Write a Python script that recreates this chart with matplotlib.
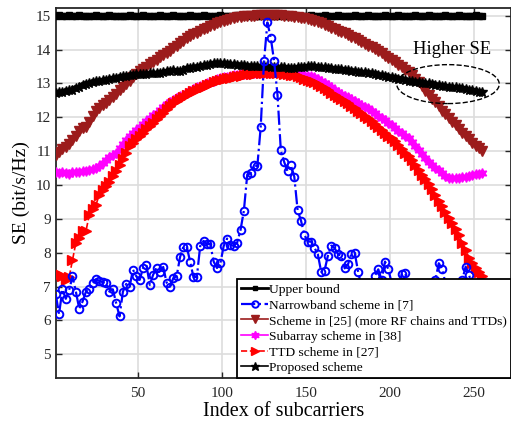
import numpy as np
import matplotlib
matplotlib.use("Agg")
import matplotlib.pyplot as plt
from matplotlib.patches import Ellipse

plt.rcParams['font.family'] = ['Liberation Serif', 'DejaVu Serif']
plt.rcParams['mathtext.fontset'] = 'stix'

# subcarrier index (every 2nd subcarrier plotted)
idx = np.arange(1, 257, 2)

upper = [15.00, 15.01, 14.99, 15.00, 15.01, 15.00, 14.99, 15.01, 15.00, 15.00, 14.99, 15.00, 15.01, 15.00, 14.99, 15.00,
         15.01, 14.99, 15.00, 14.98, 14.99, 15.00, 15.01, 15.00, 14.99, 15.00, 15.01, 15.00, 15.00, 14.99, 15.00, 15.01,
         15.00, 14.99, 15.00, 15.01, 15.00, 14.99, 15.00, 15.00, 15.01, 15.00, 14.99, 15.00, 15.01, 15.00, 15.00, 14.99,
         15.00, 15.01, 15.00, 14.99, 15.00, 15.00, 15.01, 15.00, 14.99, 15.00, 15.01, 15.00, 14.99, 15.00, 15.01, 15.00,
         15.00, 14.99, 15.00, 15.01, 15.00, 14.99, 15.00, 15.01, 15.00, 14.98, 14.99, 15.00, 15.01, 15.00, 14.99, 15.00,
         15.01, 15.00, 14.99, 15.00, 15.01, 15.00, 15.00, 14.99, 15.00, 15.01, 15.00, 14.99, 15.00, 15.01, 15.00, 15.00,
         14.99, 15.00, 15.01, 15.00, 14.99, 15.00, 15.01, 15.00, 15.00, 14.99, 15.00, 15.01, 15.00, 14.99, 15.00, 15.01,
         15.00, 15.00, 14.99, 15.00, 15.01, 15.00, 14.99, 15.00, 15.01, 15.00, 15.00, 14.99, 15.00, 15.01, 15.00, 15.00]

narrowband = [6.78, 6.19, 6.92, 6.64, 6.90, 7.30, 6.85, 6.35, 6.56, 6.85, 6.92, 7.10, 7.22, 7.17, 7.13, 7.10,
              6.85, 6.92, 6.51, 6.12, 6.85, 7.08, 7.00, 7.50, 7.30, 7.20, 7.55, 7.64, 7.05, 7.35, 7.55, 7.42,
              7.58, 7.12, 7.00, 7.25, 7.31, 7.87, 8.18, 8.18, 7.74, 7.28, 7.28, 8.20, 8.35, 8.25, 8.26, 7.74,
              7.55, 7.69, 8.20, 8.42, 8.23, 8.20, 8.30, 8.67, 9.24, 10.30, 10.35, 10.60, 10.55, 11.70, 13.66, 14.80,
              14.35, 13.66, 12.67, 11.02, 10.68, 10.40, 10.58, 10.25, 9.25, 8.95, 8.53, 8.33, 8.33, 8.15, 7.96, 7.44,
              7.47, 7.91, 8.21, 8.14, 7.96, 7.91, 7.54, 7.66, 7.97, 7.99, 7.44, 7.00, 6.80, 7.00, 6.90, 7.32,
              7.51, 7.20, 7.74, 7.51, 7.10, 6.90, 7.00, 7.37, 7.40, 7.00, 6.80, 6.90, 6.70, 7.00, 6.80, 6.90,
              7.10, 7.20, 7.69, 7.52, 7.10, 6.90, 7.00, 6.80, 7.00, 7.20, 7.59, 7.35, 7.00, 6.80, 6.90, 7.00]

scheme25 = [10.90, 10.98, 11.05, 11.13, 11.20, 11.32, 11.45, 11.60, 11.68, 11.72, 11.85, 12.05, 12.20, 12.28, 12.36, 12.43,
            12.52, 12.61, 12.70, 12.80, 12.90, 12.99, 13.08, 13.18, 13.27, 13.36, 13.43, 13.50, 13.57, 13.63, 13.70, 13.77,
            13.84, 13.90, 13.97, 14.04, 14.11, 14.19, 14.26, 14.33, 14.40, 14.45, 14.50, 14.55, 14.60, 14.65, 14.70, 14.74,
            14.78, 14.82, 14.85, 14.88, 14.91, 14.93, 14.95, 14.97, 14.98, 14.99, 15.00, 15.00, 15.01, 15.02, 15.02, 15.02,
            15.02, 15.02, 15.01, 15.01, 15.00, 14.99, 14.98, 14.97, 14.95, 14.94, 14.92, 14.90, 14.87, 14.84, 14.81, 14.77,
            14.73, 14.69, 14.65, 14.60, 14.56, 14.52, 14.48, 14.43, 14.38, 14.33, 14.28, 14.23, 14.17, 14.12, 14.07, 14.01,
            13.95, 13.89, 13.82, 13.75, 13.69, 13.62, 13.55, 13.48, 13.41, 13.33, 13.25, 13.14, 13.03, 12.91, 12.79, 12.67,
            12.55, 12.44, 12.32, 12.20, 12.09, 11.98, 11.87, 11.76, 11.65, 11.55, 11.45, 11.35, 11.25, 11.16, 11.08, 11.00]

subarray = [10.37, 10.35, 10.38, 10.36, 10.34, 10.37, 10.39, 10.38, 10.40, 10.42, 10.44, 10.47, 10.50, 10.56, 10.64, 10.74,
            10.82, 10.88, 10.96, 11.08, 11.20, 11.32, 11.44, 11.53, 11.62, 11.72, 11.81, 11.90, 11.99, 12.06, 12.14, 12.22,
            12.30, 12.38, 12.45, 12.52, 12.57, 12.62, 12.67, 12.72, 12.77, 12.83, 12.88, 12.92, 12.96, 13.00, 13.04, 13.08,
            13.12, 13.16, 13.18, 13.20, 13.22, 13.24, 13.26, 13.27, 13.28, 13.29, 13.30, 13.31, 13.32, 13.33, 13.34, 13.35,
            13.35, 13.35, 13.34, 13.34, 13.33, 13.33, 13.32, 13.31, 13.29, 13.27, 13.25, 13.23, 13.21, 13.18, 13.13, 13.07,
            13.01, 12.95, 12.89, 12.82, 12.76, 12.70, 12.64, 12.59, 12.53, 12.48, 12.43, 12.37, 12.31, 12.26, 12.19, 12.12,
            12.05, 11.98, 11.91, 11.84, 11.77, 11.69, 11.61, 11.54, 11.46, 11.38, 11.28, 11.16, 11.04, 10.92, 10.80, 10.69,
            10.60, 10.51, 10.43, 10.36, 10.28, 10.21, 10.20, 10.21, 10.22, 10.23, 10.25, 10.27, 10.29, 10.32, 10.34, 10.36]

ttd27 = [7.30, 7.36, 7.30, 7.20, 7.28, 7.79, 8.29, 8.45, 8.63, 8.64, 9.12, 9.30, 9.42, 9.72, 9.85, 9.98,
         10.10, 10.26, 10.42, 10.60, 10.78, 10.96, 11.14, 11.24, 11.35, 11.45, 11.55, 11.64, 11.73, 11.84, 11.94, 12.04,
         12.14, 12.24, 12.34, 12.43, 12.49, 12.55, 12.61, 12.66, 12.72, 12.77, 12.82, 12.86, 12.90, 12.94, 12.99, 13.03,
         13.07, 13.10, 13.12, 13.15, 13.17, 13.19, 13.21, 13.23, 13.25, 13.27, 13.28, 13.29, 13.30, 13.31, 13.32, 13.32,
         13.32, 13.31, 13.31, 13.30, 13.29, 13.28, 13.26, 13.25, 13.22, 13.18, 13.14, 13.10, 13.07, 13.04, 12.99, 12.93,
         12.86, 12.80, 12.73, 12.67, 12.60, 12.54, 12.48, 12.41, 12.34, 12.26, 12.19, 12.12, 12.04, 11.97, 11.89, 11.80,
         11.72, 11.63, 11.55, 11.46, 11.38, 11.29, 11.18, 11.07, 10.96, 10.86, 10.73, 10.59, 10.45, 10.31, 10.17, 10.04,
         9.88, 9.70, 9.52, 9.38, 9.20, 9.02, 8.88, 8.70, 8.52, 8.30, 8.08, 7.85, 7.70, 7.55, 7.44, 7.32]

proposed = [12.72, 12.74, 12.76, 12.77, 12.80, 12.82, 12.86, 12.90, 12.94, 12.98, 13.02, 13.04, 13.06, 13.08, 13.10, 13.11,
            13.13, 13.15, 13.17, 13.19, 13.21, 13.23, 13.25, 13.26, 13.27, 13.27, 13.28, 13.29, 13.30, 13.30, 13.31, 13.32,
            13.34, 13.36, 13.38, 13.40, 13.38, 13.37, 13.40, 13.46, 13.47, 13.48, 13.49, 13.51, 13.53, 13.55, 13.57, 13.59,
            13.60, 13.61, 13.60, 13.58, 13.57, 13.56, 13.55, 13.54, 13.53, 13.52, 13.52, 13.51, 13.51, 13.51, 13.51, 13.51,
            13.50, 13.50, 13.49, 13.48, 13.48, 13.47, 13.47, 13.47, 13.48, 13.49, 13.50, 13.51, 13.51, 13.51, 13.50, 13.49,
            13.48, 13.47, 13.45, 13.44, 13.43, 13.42, 13.40, 13.39, 13.38, 13.36, 13.35, 13.34, 13.33, 13.32, 13.30, 13.28,
            13.26, 13.24, 13.22, 13.20, 13.18, 13.16, 13.14, 13.12, 13.10, 13.08, 13.06, 13.04, 13.03, 13.02, 13.01, 13.00,
            12.98, 12.96, 12.94, 12.92, 12.91, 12.90, 12.89, 12.88, 12.87, 12.86, 12.84, 12.82, 12.80, 12.78, 12.76, 12.74]

labels = ['Upper bound', 'Narrowband scheme in [7]', 'Scheme in [25] (more RF chains and TTDs)',
          'Subarray scheme in [38]', 'TTD scheme in [27]', 'Proposed scheme']

fig = plt.figure(figsize=(5.11, 4.26), dpi=100)
ax = fig.add_axes([0.109, 0.1134, 0.891, 0.868])

ax.plot(idx, upper, '-', color='k', marker='s', ms=4, lw=2, label=labels[0], zorder=3)
ax.plot(idx, narrowband, '-.', color='#0000ff', marker='o', ms=5.5, mfc='none', mew=1.4, lw=1.6,
        label=labels[1], zorder=6)
ax.plot(idx, scheme25, '-', color='#9c1c1c', marker='v', ms=6.5, lw=1.2, label=labels[2], zorder=3)
ax.plot(idx, subarray, '-', color='#ff00ff', marker=(6, 1, 0), ms=7, lw=1.2, label=labels[3], zorder=3)
ax.plot(idx, ttd27, '--', color='#ff0000', marker='>', ms=6.5, lw=1.2, label=labels[4], zorder=4)
ax.plot(idx, proposed, '-', color='k', marker='*', ms=7.5, lw=1.2, label=labels[5], zorder=5)

ax.add_patch(Ellipse((234.5, 12.98), 61, 1.15, fill=False, ls='--', lw=1, ec='k', zorder=7))
ax.text(236.7, 14.0, 'Higher SE', fontsize=13.4, ha='center', va='center')

ax.set_xlim(1, 272)
ax.set_ylim(4.31, 15.23)
ax.set_xticks([50, 100, 150, 200, 250])
ax.set_yticks(range(5, 16))
ax.tick_params(direction='in', top=True, right=True, labelsize=11, length=4, width=1, colors='#262626')
ax.tick_params(axis='x', pad=7)
ax.grid(True, color='#dddddd', lw=1.2)
ax.set_axisbelow(True)
for s in ax.spines.values():
    s.set_linewidth(1.3)
    s.set_color('#262626')

ax.set_xlabel('Index of subcarriers', fontsize=14.5, labelpad=1)
ax.set_ylabel('SE (bit/s/Hz)', fontsize=14, labelpad=4)

leg = ax.legend(loc='lower right', bbox_to_anchor=(1, 0), borderaxespad=0, fontsize=9.7,
                fancybox=False, edgecolor='k', framealpha=1, handlelength=2.0, handletextpad=0.1,
                labelspacing=0.24, borderpad=0.28, markerscale=0.85)
leg.get_frame().set_linewidth(1.3)
leg.set_zorder(10)

fig.savefig('out.png', dpi=100)
